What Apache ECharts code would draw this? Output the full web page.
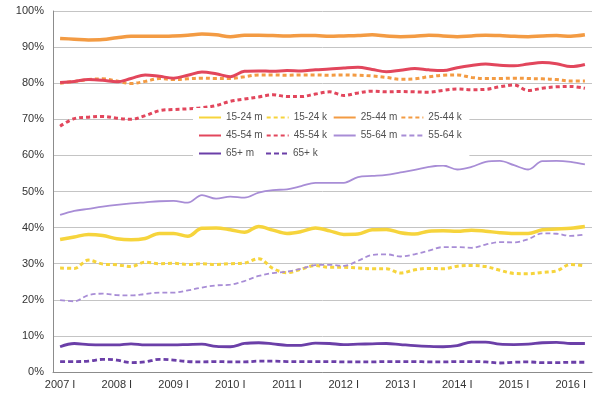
<!DOCTYPE html>
<html>
<head>
<meta charset="utf-8">
<script src="https://cdn.jsdelivr.net/npm/echarts@6/dist/echarts.min.js"></script>
<style>
  html, body { margin: 0; padding: 0; background: #fff; }
  #chart { width: 609px; height: 398px; }
</style>
</head>
<body>
<div id="chart"></div>
<script>
// quarters 2007 I .. 2016 II
var categories = [
  '2007 I', '2007 II', '2007 III', '2007 IV',
  '2008 I', '2008 II', '2008 III', '2008 IV',
  '2009 I', '2009 II', '2009 III', '2009 IV',
  '2010 I', '2010 II', '2010 III', '2010 IV',
  '2011 I', '2011 II', '2011 III', '2011 IV',
  '2012 I', '2012 II', '2012 III', '2012 IV',
  '2013 I', '2013 II', '2013 III', '2013 IV',
  '2014 I', '2014 II', '2014 III', '2014 IV',
  '2015 I', '2015 II', '2015 III', '2015 IV',
  '2016 I', '2016 II'
];

var yTicks = [0, 10, 20, 30, 40, 50, 60, 70, 80, 90, 100];

var m1524 = [36.7, 37.4, 38.1, 37.8, 36.9, 36.6, 37.0, 38.4, 38.4, 37.6, 39.8, 39.9, 39.4, 38.7, 40.3, 39.3, 38.4, 38.9, 39.9, 39.1,
             38.1, 38.2, 39.4, 39.5, 38.6, 38.2, 39.0, 39.1, 39.0, 39.3, 39.0, 38.6, 38.4, 38.4, 39.4, 39.6, 39.8, 40.3];
var k1524 = [28.8, 28.7, 31.0, 29.9, 29.7, 29.2, 30.4, 30.0, 30.1, 29.8, 30.0, 29.8, 30.0, 30.2, 31.4, 28.7, 27.5, 28.5, 29.5, 29.0,
             29.0, 28.8, 28.6, 28.6, 27.4, 28.3, 28.7, 28.6, 29.3, 29.5, 29.2, 28.2, 27.3, 27.2, 27.6, 28.0, 29.8, 29.4];
var m2544 = [92.4, 92.2, 92.0, 92.1, 92.6, 93.0, 93.0, 93.0, 93.1, 93.3, 93.6, 93.4, 92.9, 93.3, 93.3, 93.2, 93.1, 93.2, 93.2, 93.0,
             93.1, 93.2, 93.4, 93.1, 92.9, 93.0, 93.3, 93.1, 92.9, 93.1, 93.3, 93.2, 93.0, 92.9, 93.1, 93.2, 93.0, 93.4];
var k2544 = [80.0, 80.5, 81.0, 81.2, 80.6, 79.9, 80.5, 81.3, 81.0, 81.2, 81.4, 81.3, 81.3, 81.8, 82.3, 82.3, 82.2, 82.3, 82.3, 82.2,
             82.3, 82.2, 82.0, 81.6, 81.1, 81.2, 81.8, 82.2, 82.3, 81.6, 81.3, 81.3, 81.4, 81.3, 81.2, 81.0, 80.6, 80.6];
var m4554 = [80.2, 80.5, 81.0, 80.8, 80.4, 81.3, 82.3, 81.9, 81.4, 82.2, 83.1, 82.6, 81.8, 83.3, 83.4, 83.3, 83.5, 83.4, 83.7, 83.9,
             84.2, 84.4, 83.8, 83.2, 83.6, 84.1, 83.7, 83.5, 84.3, 84.9, 85.3, 85.0, 84.8, 85.3, 85.7, 85.4, 84.6, 85.2];
var k4554 = [68.1, 70.2, 70.6, 70.8, 70.3, 70.0, 71.0, 72.4, 72.7, 72.9, 73.2, 73.8, 75.0, 75.6, 76.2, 76.8, 76.3, 76.3, 77.0, 77.6,
             76.6, 77.3, 77.8, 77.6, 77.7, 77.6, 77.5, 78.0, 78.4, 78.2, 78.3, 79.0, 79.5, 78.0, 78.6, 79.0, 79.1, 78.6];
var m5564 = [43.5, 44.6, 45.2, 45.8, 46.3, 46.7, 47.0, 47.3, 47.4, 46.9, 49.0, 48.0, 48.6, 48.3, 49.7, 50.4, 50.6, 51.5, 52.4, 52.4,
             52.4, 54.0, 54.3, 54.6, 55.3, 56.0, 56.8, 57.2, 56.1, 56.8, 58.2, 58.5, 57.3, 56.1, 58.4, 58.5, 58.2, 57.5];
var k5564 = [19.9, 19.6, 21.3, 21.7, 21.3, 21.2, 21.6, 22.0, 22.0, 22.6, 23.4, 24.0, 24.2, 25.2, 26.6, 27.4, 27.8, 28.6, 29.6, 29.7,
             29.4, 30.8, 32.4, 32.6, 32.0, 32.6, 33.6, 34.6, 34.6, 34.4, 35.3, 36.0, 35.9, 36.8, 38.4, 38.3, 37.7, 38.1];
var m65 = [7.0, 7.9, 7.6, 7.5, 7.5, 7.8, 7.5, 7.5, 7.5, 7.6, 7.7, 7.1, 7.0, 7.9, 8.1, 7.8, 7.4, 7.4, 8.0, 7.9,
           7.6, 7.7, 7.8, 7.9, 7.6, 7.3, 7.1, 7.0, 7.3, 8.3, 8.3, 7.7, 7.6, 7.7, 8.1, 8.2, 7.9, 7.9];
var k65 = [2.9, 2.9, 3.0, 3.5, 3.3, 2.6, 2.8, 3.5, 3.3, 2.9, 2.8, 2.9, 2.8, 2.8, 3.0, 3.0, 2.9, 2.9, 2.9, 2.9,
           2.8, 2.8, 2.8, 2.9, 2.9, 2.9, 2.8, 2.8, 2.9, 2.9, 2.8, 2.5, 2.7, 2.8, 2.6, 2.6, 2.7, 2.7];

var YELLOW = '#f6d43c', ORANGE = '#f39b43', RED = '#e2465c', LILAC = '#a88dd6', PURPLE = '#6b3fa8';

function line(name, data, color, width, dash) {
  return {
    name: name,
    type: 'line',
    data: data,
    smooth: 0.35,
    symbol: 'none',
    lineStyle: { color: color, width: width, type: dash || 'solid' },
    itemStyle: { color: color }
  };
}

var chart = echarts.init(document.getElementById('chart'));
chart.setOption({
  animation: false,
  textStyle: { fontFamily: 'Liberation Sans, Arial, sans-serif' },
  grid: { left: 53, right: 17, top: 11, bottom: 26 },
  legend: {
    left: 193, top: 108, width: 276,
    padding: [2, 5, 4, 5],
    backgroundColor: '#fff',
    itemWidth: 22, itemHeight: 10, itemGap: 3,
    itemStyle: { opacity: 0 },
    textStyle: { fontSize: 10, color: '#505050', width: 36, lineHeight: 15 },
    data: ['15-24 m', '15-24 k', '25-44 m', '25-44 k', '45-54 m', '45-54 k', '55-64 m', '55-64 k', '65+ m', '65+ k']
  },
  xAxis: {
    type: 'category',
    data: categories,
    boundaryGap: true,
    axisLine: { lineStyle: { color: '#8c8c8c' } },
    axisTick: { interval: 0, length: 4, lineStyle: { color: '#8c8c8c' } },
    axisLabel: { interval: 3, margin: 7, fontSize: 11, color: '#333' }
  },
  yAxis: {
    type: 'value',
    min: yTicks[0], max: yTicks[yTicks.length - 1], interval: 10,
    axisLine: { show: true, lineStyle: { color: '#8c8c8c' } },
    axisTick: { show: false },
    axisLabel: { fontSize: 11, color: '#333', margin: 9, formatter: '{value}%' },
    splitLine: { lineStyle: { color: '#c4c4c4' } }
  },
  series: [
    line('15-24 m', m1524, YELLOW, 3.5),
    line('15-24 k', k1524, YELLOW, 3, [4, 3]),
    line('25-44 m', m2544, ORANGE, 3.5),
    line('25-44 k', k2544, ORANGE, 3, [4, 3]),
    line('45-54 m', m4554, RED, 3),
    line('45-54 k', k4554, RED, 3, [4, 3]),
    line('55-64 m', m5564, LILAC, 1.8),
    line('55-64 k', k5564, LILAC, 1.8, [5, 3]),
    line('65+ m', m65, PURPLE, 2.8),
    line('65+ k', k65, PURPLE, 2.8, [5, 3])
  ]
});
</script>
</body>
</html>
